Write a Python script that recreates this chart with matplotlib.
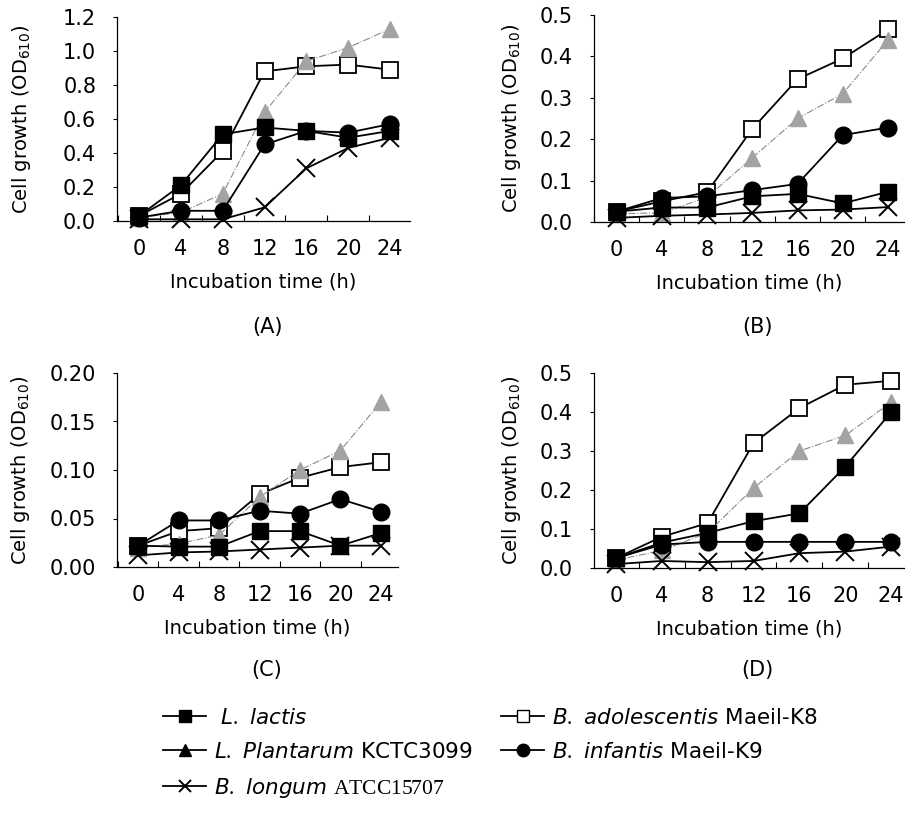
import matplotlib
matplotlib.use("Agg")
import matplotlib.pyplot as plt
from matplotlib.lines import Line2D
from matplotlib.ticker import FormatStrFormatter, MultipleLocator

plt.rcParams.update({
    "font.family": "DejaVu Sans",
    "mathtext.fontset": "custom",
    "mathtext.it": "DejaVu Sans:italic",
    "mathtext.rm": "Liberation Serif",
})

HOURS = [0, 4, 8, 12, 16, 20, 24]

# OD610 readings per strain, one list per medium (A-D)
LACTIS_A = [0.03, 0.21, 0.51, 0.55, 0.53, 0.49, 0.53]
PLANTARUM_A = [0.02, 0.05, 0.16, 0.64, 0.94, 1.02, 1.13]
LONGUM_A = [0.01, 0.01, 0.01, 0.08, 0.31, 0.43, 0.49]
ADOLESCENTIS_A = [0.03, 0.16, 0.41, 0.88, 0.91, 0.92, 0.89]
INFANTIS_A = [0.02, 0.06, 0.06, 0.45, 0.53, 0.52, 0.57]

LACTIS_B = [0.025, 0.035, 0.035, 0.062, 0.068, 0.045, 0.073]
PLANTARUM_B = [0.02, 0.022, 0.06, 0.155, 0.25, 0.31, 0.44]
LONGUM_B = [0.01, 0.015, 0.018, 0.022, 0.028, 0.03, 0.036]
ADOLESCENTIS_B = [0.025, 0.05, 0.072, 0.225, 0.345, 0.395, 0.465]
INFANTIS_B = [0.025, 0.058, 0.062, 0.077, 0.092, 0.21, 0.228]

LACTIS_C = [0.022, 0.021, 0.021, 0.037, 0.037, 0.022, 0.035]
PLANTARUM_C = [0.02, 0.024, 0.033, 0.072, 0.10, 0.12, 0.17]
LONGUM_C = [0.012, 0.015, 0.016, 0.018, 0.02, 0.022, 0.022]
ADOLESCENTIS_C = [0.022, 0.037, 0.04, 0.075, 0.092, 0.103, 0.108]
INFANTIS_C = [0.022, 0.048, 0.048, 0.058, 0.055, 0.07, 0.057]

LACTIS_D = [0.025, 0.065, 0.09, 0.12, 0.14, 0.26, 0.40]
PLANTARUM_D = [0.02, 0.045, 0.09, 0.205, 0.30, 0.34, 0.425]
LONGUM_D = [0.01, 0.018, 0.015, 0.018, 0.038, 0.042, 0.055]
ADOLESCENTIS_D = [0.025, 0.08, 0.115, 0.32, 0.41, 0.47, 0.48]
INFANTIS_D = [0.025, 0.06, 0.067, 0.067, 0.067, 0.067, 0.067]

PANEL_TAGS = ["(A)", "(B)", "(C)", "(D)"]
Y_MAX = [1.2, 0.5, 0.2, 0.5]
Y_STEP = [0.2, 0.1, 0.05, 0.1]
Y_FMT = ["%.1f", "%.1f", "%.2f", "%.1f"]

LABELS = [
    r" $\it{L.\ lactis}$",
    r"$\it{L.\ Plantarum}$ KCTC3099",
    r"$\it{B.\ longum}$ $\mathrm{ATCC15707}$",
    r"$\it{B.\ adolescentis}$ Maeil-K8",
    r"$\it{B.\ infantis}$ Maeil-K9",
]

GREY = "#a3a3a3"
# drawing order: open squares at the bottom, crosses on top
STYLES = {
    "adolescentis": dict(marker="s", mfc="white", mec="black", color="black", ms=12, lw=1.3, mew=1.3),
    "plantarum": dict(marker="^", mfc=GREY, mec=GREY, color="#8a8a8a", ms=12, lw=0.8, ls="-."),
    "infantis": dict(marker="o", mfc="black", mec="black", color="black", ms=12, lw=1.3),
    "lactis": dict(marker="s", mfc="black", mec="black", color="black", ms=12, lw=1.3),
    "longum": dict(marker="x", mfc="black", mec="black", color="black", ms=13, lw=1.3, mew=1.4),
}

panels = [
    dict(lactis=LACTIS_A, plantarum=PLANTARUM_A, longum=LONGUM_A, adolescentis=ADOLESCENTIS_A, infantis=INFANTIS_A),
    dict(lactis=LACTIS_B, plantarum=PLANTARUM_B, longum=LONGUM_B, adolescentis=ADOLESCENTIS_B, infantis=INFANTIS_B),
    dict(lactis=LACTIS_C, plantarum=PLANTARUM_C, longum=LONGUM_C, adolescentis=ADOLESCENTIS_C, infantis=INFANTIS_C),
    dict(lactis=LACTIS_D, plantarum=PLANTARUM_D, longum=LONGUM_D, adolescentis=ADOLESCENTIS_D, infantis=INFANTIS_D),
]

W, H = 905, 822
fig = plt.figure(figsize=(W / 100, H / 100), dpi=100)

# axes boxes in pixels: left, top, right, bottom
boxes = [(117, 17, 410, 221), (594, 15, 905, 222), (117, 373, 398, 567), (594, 373, 905, 568)]
xlims = [(-2.1, 25.9), (-2.0, 25.5), (-2.1, 25.7), (-1.9, 25.2)]
ylabel_x = [33, 523, 32, 523]   # right edge of the rotated y label, px
tag_pos = [(267, 327), (757, 327), (267, 670), (757, 670)]

for i, data in enumerate(panels):
    l, t, r, b = boxes[i]
    ax = fig.add_axes([l / W, 1 - b / H, (r - l) / W, (b - t) / H])
    for name in ["adolescentis", "plantarum", "infantis", "lactis", "longum"]:
        ax.plot(HOURS, data[name], clip_on=False, **STYLES[name])

    ax.set_xlim(*xlims[i])
    ax.set_ylim(0, Y_MAX[i])
    ax.set_xticks(HOURS)
    ax.xaxis.set_minor_locator(MultipleLocator(4, offset=2))
    ax.yaxis.set_major_locator(MultipleLocator(Y_STEP[i]))
    ax.yaxis.set_major_formatter(FormatStrFormatter(Y_FMT[i]))
    ax.tick_params(axis="x", which="major", length=0, pad=13, labelsize=15)
    ax.tick_params(axis="x", which="minor", direction="in", length=4, width=0.8)
    ax.tick_params(axis="y", direction="out", length=3, width=0.8, pad=12, labelsize=15)
    for side in ("top", "right"):
        ax.spines[side].set_visible(False)
    for side in ("left", "bottom"):
        ax.spines[side].set_linewidth(0.9)
    ax.set_xlabel("Incubation time (h)", fontsize=14, labelpad=10)
    ax.set_ylabel(r"Cell growth (OD$_{\mathsf{610}}$)", fontsize=14)
    ax.yaxis.set_label_coords((ylabel_x[i] - l) / (r - l), 0.5)
    fig.text(tag_pos[i][0] / W, 1 - tag_pos[i][1] / H, PANEL_TAGS[i],
             ha="center", va="center", fontsize=15)

# legend keys are drawn all in black
handles = [
    Line2D([], [], color="black", marker="s", mfc="black", mec="black", ms=9, lw=1.3),
    Line2D([], [], color="black", marker="^", mfc="black", mec="black", ms=9, lw=1.3),
    Line2D([], [], color="black", marker="x", mec="black", ms=9, lw=1.3, mew=1.4),
    Line2D([], [], color="black", marker="s", mfc="white", mec="black", ms=9, lw=1.3),
    Line2D([], [], color="black", marker="o", mfc="black", mec="black", ms=9, lw=1.3),
]
fig.legend(handles, LABELS, ncol=2, loc="upper left", bbox_to_anchor=(163 / W, 1 - 708 / H),
           frameon=False, fontsize=15.5, handlelength=2.0, handletextpad=0.35,
           labelspacing=0.65, columnspacing=1.35, borderaxespad=0, borderpad=0)

fig.savefig("out.png", dpi=100)
